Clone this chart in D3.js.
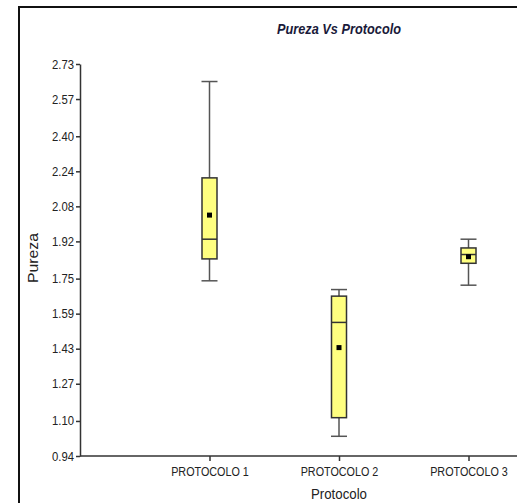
<!DOCTYPE html>
<html>
<head>
<meta charset="utf-8">
<script src="https://cdn.jsdelivr.net/npm/d3@7"></script>
<style>
html,body{margin:0;padding:0;background:#fff;}
svg{display:block;}
</style>
</head>
<body>
<svg id="chart" width="517" height="503"></svg>
<script>
const categories = ["PROTOCOLO 1", "PROTOCOLO 2", "PROTOCOLO 3"];
const whiskerLow  = [1.74, 1.03, 1.72];
const q1          = [1.84, 1.115, 1.82];
const median      = [1.93, 1.55, 1.86];
const q3          = [2.21, 1.67, 1.89];
const whiskerHigh = [2.65, 1.70, 1.93];
const means       = [2.04, 1.435, 1.85];
const yTicks = [0.94, 1.10, 1.27, 1.43, 1.59, 1.75, 1.92, 2.08, 2.24, 2.40, 2.57, 2.73];

const FONT = "'Liberation Sans',Arial,sans-serif";
const svg = d3.select("#chart");

// frame (left + top only, image is cropped)
svg.append("path").attr("d","M19,503V7H517").attr("fill","none").attr("stroke","#111").attr("stroke-width",2);

const y = d3.scaleLinear().domain([0.94, 2.73]).range([456, 64]);
const x = d3.scalePoint().domain(categories).range([80, 598]).padding(1);

const yAxis = svg.append("g").attr("transform","translate(80,0)")
  .call(d3.axisLeft(y).tickValues(yTicks).tickFormat(d3.format(".2f")).tickSize(4).tickPadding(2).tickSizeOuter(0));
yAxis.select(".domain").attr("stroke","#333").attr("stroke-width",1.5);
yAxis.selectAll(".tick line").attr("stroke","#333").attr("stroke-width",1.5);
yAxis.selectAll("text").attr("font-family",FONT).attr("font-size",12.5).attr("fill","#222")
  .attr("textLength",22).attr("lengthAdjust","spacingAndGlyphs");

const xAxis = svg.append("g").attr("transform","translate(0,456)")
  .call(d3.axisBottom(x).tickSize(5).tickPadding(6).tickSizeOuter(0));
xAxis.select(".domain").attr("d","M80,0H517").attr("stroke","#333").attr("stroke-width",1.5);
xAxis.selectAll(".tick line").attr("stroke","#333").attr("stroke-width",1.5);
xAxis.selectAll("text").attr("font-family",FONT).attr("font-size",13).attr("fill","#222")
  .attr("transform","scale(0.83,1)");

const boxW = 15, capW = 16;
const g = svg.append("g");
categories.forEach((c,i)=>{
  const cx = x(c);
  const line = (x1,y1,x2,y2)=>g.append("line").attr("x1",x1).attr("y1",y1).attr("x2",x2).attr("y2",y2)
      .attr("stroke","#555").attr("stroke-width",1.5);
  line(cx, y(whiskerHigh[i]), cx, y(q3[i]));
  line(cx, y(q1[i]), cx, y(whiskerLow[i]));
  line(cx-capW/2, y(whiskerHigh[i]), cx+capW/2, y(whiskerHigh[i]));
  line(cx-capW/2, y(whiskerLow[i]), cx+capW/2, y(whiskerLow[i]));
  g.append("rect").attr("x",cx-boxW/2).attr("y",y(q3[i])).attr("width",boxW).attr("height",y(q1[i])-y(q3[i]))
    .attr("fill","#ffff80").attr("stroke","#333").attr("stroke-width",1.5);
  g.append("line").attr("x1",cx-boxW/2).attr("x2",cx+boxW/2).attr("y1",y(median[i])).attr("y2",y(median[i]))
    .attr("stroke","#333").attr("stroke-width",1.5);
  g.append("rect").attr("x",cx-2.5).attr("y",y(means[i])-2.5).attr("width",5).attr("height",5).attr("fill","#000");
});

svg.append("text").attr("x",339).attr("y",34).attr("text-anchor","middle")
  .attr("font-family",FONT).attr("font-size",15).attr("font-weight","bold").attr("font-style","italic")
  .attr("fill","#1a1a3a").attr("textLength",124).attr("lengthAdjust","spacingAndGlyphs").text("Pureza Vs Protocolo");

svg.append("text").attr("x",339).attr("y",499).attr("text-anchor","middle")
  .attr("font-family",FONT).attr("font-size",14.5).attr("fill","#222")
  .attr("textLength",56).attr("lengthAdjust","spacingAndGlyphs").text("Protocolo");

svg.append("text").attr("transform","translate(38,258) rotate(-90)").attr("text-anchor","middle")
  .attr("font-family",FONT).attr("font-size",15).attr("fill","#222")
  .attr("textLength",50).attr("lengthAdjust","spacingAndGlyphs").text("Pureza");
</script>
</body>
</html>
